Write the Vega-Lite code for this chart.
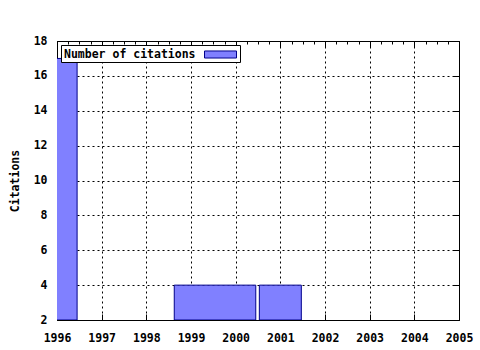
{
  "$schema": "https://vega.github.io/schema/vega-lite/v6.json",
  "width": 402,
  "height": 279,
  "autosize": "none",
  "padding": {"left": 57, "top": 41, "right": 21, "bottom": 30},
  "background": "white",
  "config": {
    "view": {"stroke": "black", "strokeWidth": 1},
    "font": "DejaVu Sans Mono",
    "axis": {
      "labelFont": "DejaVu Sans Mono",
      "labelFontWeight": "bold",
      "labelFontSize": 11.5,
      "labelColor": "black",
      "titleFont": "DejaVu Sans Mono",
      "titleFontWeight": "bold",
      "titleFontSize": 11.5,
      "titleColor": "black",
      "domain": false,
      "tickColor": "black",
      "gridColor": "black",
      "gridDash": [2, 3],
      "gridWidth": 1
    }
  },
  "data": {
    "values": [
      {"start": 1995.55, "end": 1996.45, "citations": 17},
      {"start": 1998.625, "end": 2000.45, "citations": 4},
      {"start": 2000.53, "end": 2001.47, "citations": 4}
    ]
  },
  "layer": [
    {
      "mark": {"type": "rect", "clip": true, "stroke": "#00008b", "strokeWidth": 1},
      "encoding": {
        "x": {
          "field": "start",
          "type": "quantitative",
          "scale": {"domain": [1996, 2005], "nice": false, "zero": false},
          "axis": {
            "orient": "bottom",
            "title": null,
            "values": [1996, 1996.25, 1996.5, 1996.75, 1997, 1997.25, 1997.5, 1997.75, 1998, 1998.25, 1998.5, 1998.75, 1999, 1999.25, 1999.5, 1999.75, 2000, 2000.25, 2000.5, 2000.75, 2001, 2001.25, 2001.5, 2001.75, 2002, 2002.25, 2002.5, 2002.75, 2003, 2003.25, 2003.5, 2003.75, 2004, 2004.25, 2004.5, 2004.75, 2005],
            "format": "d",
            "labelExpr": "datum.value % 1 == 0 ? datum.label : ''",
            "tickSize": {"condition": {"test": "datum.value % 1 == 0", "value": -6}, "value": -3},
            "gridOpacity": {"condition": {"test": "datum.value % 1 == 0", "value": 1}, "value": 0},
            "labelPadding": 18,
            "labelFlush": false,
            "labelOverlap": false
          }
        },
        "x2": {"field": "end"},
        "y": {
          "field": "citations",
          "type": "quantitative",
          "scale": {"domain": [2, 18], "nice": false, "zero": false},
          "axis": {
            "values": [2, 4, 6, 8, 10, 12, 14, 16, 18],
            "title": "Citations",
            "tickSize": -6,
            "labelPadding": 16,
            "titlePadding": 13,
            "labelFlush": false
          }
        },
        "y2": {"datum": 2},
        "fill": {
          "datum": "Number of citations",
          "type": "nominal",
          "scale": {"range": ["#8080ff"]},
          "legend": {
            "orient": "top-left",
            "offset": 4,
            "title": null,
            "strokeColor": "black",
            "fillColor": "white",
            "padding": 1,
            "labelFont": "DejaVu Sans Mono",
            "labelFontWeight": "bold",
            "labelFontSize": 11.5,
            "labelColor": "black",
            "symbolType": "M-2,-0.44H2V0.44H-2Z",
            "symbolSize": 256,
            "symbolStrokeColor": "#00008b",
            "symbolStrokeWidth": 1,
            "symbolOffset": 150,
            "labelOffset": -165
          }
        }
      }
    },
    {
      "mark": {"type": "rect", "opacity": 0},
      "encoding": {
        "x": {
          "field": "start",
          "type": "quantitative",
          "axis": {
            "orient": "top",
            "title": null,
            "labels": false,
            "grid": false,
            "values": [1996, 1996.25, 1996.5, 1996.75, 1997, 1997.25, 1997.5, 1997.75, 1998, 1998.25, 1998.5, 1998.75, 1999, 1999.25, 1999.5, 1999.75, 2000, 2000.25, 2000.5, 2000.75, 2001, 2001.25, 2001.5, 2001.75, 2002, 2002.25, 2002.5, 2002.75, 2003, 2003.25, 2003.5, 2003.75, 2004, 2004.25, 2004.5, 2004.75, 2005],
            "tickSize": {"condition": {"test": "datum.value % 1 == 0", "value": -6}, "value": -3}
          }
        },
        "x2": {"field": "end"},
        "y": {
          "field": "citations",
          "type": "quantitative",
          "axis": {
            "orient": "right",
            "title": null,
            "labels": false,
            "grid": false,
            "values": [2, 4, 6, 8, 10, 12, 14, 16, 18],
            "tickSize": -6
          }
        },
        "y2": {"datum": 2}
      }
    }
  ],
  "resolve": {"axis": {"x": "independent", "y": "independent"}}
}
